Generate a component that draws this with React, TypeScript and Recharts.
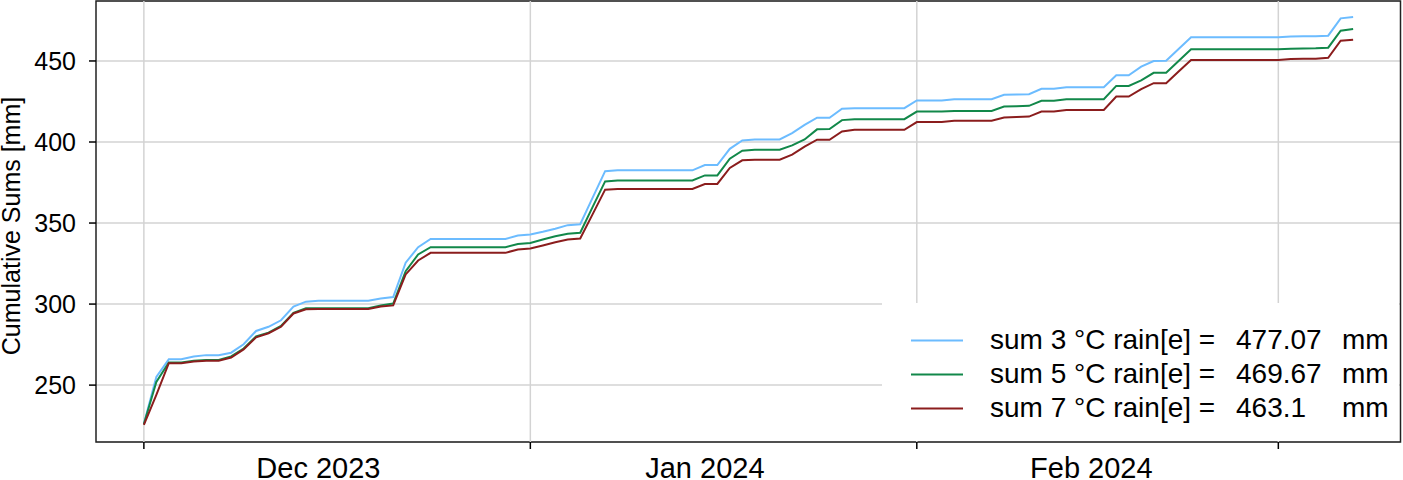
import React from "react";
import {
  LineChart,
  Line,
  XAxis,
  YAxis,
  CartesianGrid,
  ReferenceLine,
  ReferenceArea,
} from "recharts";

// cumulative sums per day, day 0 = 1 Dec 2023
const sum3 = [
  226, 255, 266, 266, 267.7, 268.5, 268.5, 270, 275.2, 283.4,
  286, 290, 298.4, 301.5, 302, 302, 302, 302, 302, 303.5,
  304.3, 325.5, 335.1, 340.2, 340.2, 340.2, 340.2, 340.2, 340.2, 340.2,
  342.3, 342.9, 344.6, 346.5, 348.7, 349.3, 365.7, 382, 382.5, 382.5,
  382.5, 382.5, 382.5, 382.5, 382.5, 385.8, 385.8, 395.8, 401, 401.5,
  401.5, 401.6, 405.5, 410.6, 415, 415, 420.5, 420.9, 420.9, 420.9,
  420.9, 420.9, 425.6, 425.6, 425.6, 426.4, 426.4, 426.4, 426.4, 429.1,
  429.3, 429.5, 432.8, 432.8, 433.8, 433.8, 433.8, 433.8, 441.2, 441.2,
  446.5, 450, 450.2, 457.4, 464.6, 464.6, 464.6, 464.6, 464.6, 464.6,
  464.6, 464.6, 465.1, 465.2, 465.3, 465.6, 476.3, 477.07,
];

const sum5 = [
  226, 252, 264, 264, 265, 265.5, 265.5, 267.7, 272.6, 280,
  282.4, 286.5, 294.6, 297.4, 297.4, 297.4, 297.4, 297.4, 297.4, 299.2,
  300.3, 320.3, 330.6, 335.1, 335.1, 335.1, 335.1, 335.1, 335.1, 335.1,
  337.1, 337.7, 339.8, 341.8, 343.4, 344, 360, 375.7, 376.3, 376.3,
  376.3, 376.3, 376.3, 376.3, 376.3, 379.4, 379.4, 389.7, 394.6, 395.2,
  395.2, 395.2, 397.9, 401.6, 407.8, 408, 413.5, 414.1, 414.1, 414.1,
  414.1, 414.1, 418.8, 418.8, 418.8, 419.2, 419.2, 419.2, 419.2, 421.9,
  422.1, 422.3, 425.4, 425.5, 426.4, 426.4, 426.4, 426.4, 434.6, 434.6,
  438, 442.7, 442.8, 450, 457.2, 457.2, 457.2, 457.2, 457.2, 457.2,
  457.2, 457.2, 457.6, 457.7, 457.8, 458.2, 468.7, 469.67,
];

const sum7 = [
  225.5, 244, 263.5, 263.5, 264.6, 265, 265, 267, 272, 279.5,
  282, 286, 294.2, 296.8, 296.9, 296.9, 296.9, 296.9, 296.9, 298.5,
  299.2, 318.3, 326.9, 331.6, 331.6, 331.6, 331.6, 331.6, 331.6, 331.6,
  333.7, 334.3, 336.2, 338.2, 339.8, 340.5, 355.5, 370.6, 371, 371,
  371, 371, 371, 371, 371, 374.1, 374.1, 384, 388.7, 389.1,
  389.1, 389.1, 392.2, 397.2, 401.4, 401.4, 406.5, 407.5, 407.5, 407.5,
  407.5, 407.5, 412.3, 412.3, 412.3, 413.1, 413.1, 413.1, 413.1, 415.1,
  415.4, 415.7, 418.8, 418.8, 419.8, 419.8, 419.8, 419.8, 428, 428,
  432.6, 436.3, 436.3, 443.5, 450.6, 450.6, 450.6, 450.6, 450.6, 450.6,
  450.6, 450.6, 451.2, 451.3, 451.4, 452, 462.5, 463.1,
];

const monthStarts = [0, 31, 62, 91];
const labelDays = [14, 45, 76];
const monthLabels = ["Dec 2023", "Jan 2024", "Feb 2024"];
const yTicks = [250, 300, 350, 400, 450];

const legendItems = [
  { label: "sum 3 °C rain[e] =", value: "477.07", color: "#6cbcff" },
  { label: "sum 5 °C rain[e] =", value: "469.67", color: "#12884a" },
  { label: "sum 7 °C rain[e] =", value: "463.1", color: "#8b1d1d" },
];

const data = sum3.map((v, i) => ({ day: i, s3: v, s5: sum5[i], s7: sum7[i] }));

const FONT = "'Liberation Sans', Arial, Helvetica, sans-serif";
const X_DOMAIN = [-3.84, 100.8];
const Y_DOMAIN = [214.9, 487];

function XTick(props: any) {
  const { x, y, payload } = props;
  const v = payload.value;
  if (monthStarts.includes(v)) {
    return <line x1={x} x2={x} y1={y} y2={y + 7} stroke="#000" strokeWidth={1.5} />;
  }
  const idx = labelDays.indexOf(v);
  if (idx < 0) return <g />;
  return (
    <text x={x} y={y + 35.5} textAnchor="middle" fontSize={29} fontFamily={FONT} fill="#000">
      {monthLabels[idx]}
    </text>
  );
}

const renderYLabel = () => (
  <text
    transform="translate(20, 226) rotate(-90)"
    textAnchor="middle"
    fontSize={25}
    fontFamily={FONT}
    fill="#000"
  >
    Cumulative Sums [mm]
  </text>
);

export default function App() {
  return (
    <div style={{ position: "absolute", left: 0, top: 0, width: 1403, height: 480, background: "#fff" }}>
      <LineChart
        width={1403}
        height={480}
        data={data}
        margin={{ top: 1, right: 2.5, bottom: 0, left: 0 }}
      >
        <CartesianGrid vertical={false} stroke="#d3d3d3" strokeWidth={1.5} />
        {monthStarts.map((d) => (
          <ReferenceLine key={d} x={d} stroke="#d3d3d3" strokeWidth={1.5} />
        ))}
        <XAxis
          type="number"
          dataKey="day"
          domain={X_DOMAIN}
          allowDataOverflow
          ticks={[...monthStarts, ...labelDays].sort((a, b) => a - b)}
          interval={0}
          tick={(p: any) => <XTick {...p} />}
          tickLine={false}
          axisLine={false}
          tickSize={0}
          tickMargin={0}
          height={38}
        />
        <YAxis
          type="number"
          domain={Y_DOMAIN}
          allowDataOverflow
          ticks={yTicks}
          interval={0}
          width={96}
          tickSize={7}
          tickMargin={13}
          axisLine={false}
          tickLine={{ stroke: "#000", strokeWidth: 1.5 }}
          tick={{ fontSize: 25, fontFamily: FONT, fill: "#000" }}
          label={renderYLabel}
        />
        <Line type="linear" dataKey="s3" stroke="#6cbcff" strokeWidth={2} dot={false} isAnimationActive={false} />
        <Line type="linear" dataKey="s5" stroke="#12884a" strokeWidth={2} dot={false} isAnimationActive={false} />
        <Line type="linear" dataKey="s7" stroke="#8b1d1d" strokeWidth={2} dot={false} isAnimationActive={false} />
        <ReferenceArea
          x1={X_DOMAIN[0]}
          x2={X_DOMAIN[1]}
          y1={Y_DOMAIN[0]}
          y2={Y_DOMAIN[1]}
          fill="none"
          stroke="#222"
          strokeWidth={1.5}
          ifOverflow="visible"
        />
      </LineChart>

      <div
        style={{
          position: "absolute",
          left: 882,
          top: 303,
          width: 517,
          height: 138,
          background: "#fff",
          fontFamily: FONT,
          fontSize: 28,
          color: "#000",
        }}
      >
        {legendItems.map((it, i) => (
          <div key={it.label} style={{ position: "absolute", left: 0, top: 36.5 + i * 34 - 17, height: 34, width: 517 }}>
            <svg style={{ position: "absolute", left: 29, top: 16 }} width={52} height={3}>
              <line x1={0} x2={52} y1={1.5} y2={1.5} stroke={it.color} strokeWidth={2} />
            </svg>
            <span style={{ position: "absolute", left: 108, top: 0, lineHeight: "34px", whiteSpace: "pre" }}>{it.label}</span>
            <span style={{ position: "absolute", left: 354, top: 0, lineHeight: "34px" }}>{it.value}</span>
            <span style={{ position: "absolute", left: 460, top: 0, lineHeight: "34px" }}>mm</span>
          </div>
        ))}
      </div>
    </div>
  );
}
